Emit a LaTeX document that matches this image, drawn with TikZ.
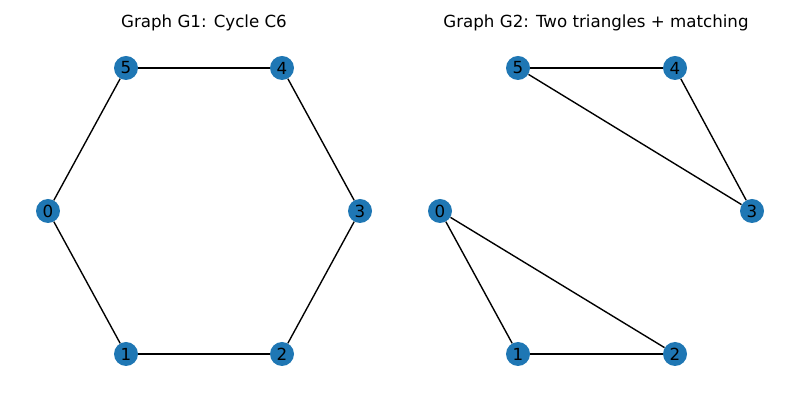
\documentclass[tikz,border=0pt]{standalone}
\usepackage{fontspec}
\setmainfont{DejaVu Sans}
\usepackage{tikz}
\definecolor{nodeblue}{HTML}{1F77B4}
\tikzset{
	vtx/.style={circle, fill=nodeblue, minimum size=24*0.72pt, inner sep=0pt, font=\fontsize{12}{14}\selectfont},
	edg/.style={line width=1pt, black},
	ttl/.style={font=\fontsize{12}{14}\selectfont}
}

\begin{document}
\begin{tikzpicture}[x=0.72pt, y=-0.72pt]
			%%%%% START %%%%%
			
			\useasboundingbox (0, 0) rectangle (800, 400);
			
			\node[ttl] (titleA) at (204, 23) {Graph G1: Cycle C6};
			\node[ttl] (titleB) at (596, 23) {Graph G2: Two triangles + matching};
			
			% G1
			\node[vtx] (a0) at (48, 211) {0};
			\node[vtx] (a1) at (126, 354) {1};
			\node[vtx] (a2) at (282, 354) {2};
			\node[vtx] (a3) at (360, 211) {3};
			\node[vtx] (a4) at (282, 68) {4};
			\node[vtx] (a5) at (126, 68) {5};
			
			\draw[edg] (a0) -- (a1);
			\draw[edg] (a1) -- (a2);
			\draw[edg] (a2) -- (a3);
			\draw[edg] (a3) -- (a4);
			\draw[edg] (a4) -- (a5);
			\draw[edg] (a5) -- (a0);
			
			% G2
			\node[vtx] (b0) at (440, 211) {0};
			\node[vtx] (b1) at (518, 354) {1};
			\node[vtx] (b2) at (675, 354) {2};
			\node[vtx] (b3) at (752, 211) {3};
			\node[vtx] (b4) at (675, 68) {4};
			\node[vtx] (b5) at (518, 68) {5};
			
			\draw[edg] (b0) -- (b1);
			\draw[edg] (b1) -- (b2);
			\draw[edg] (b0) -- (b2);
			\draw[edg] (b3) -- (b4);
			\draw[edg] (b4) -- (b5);
			\draw[edg] (b5) -- (b3);
			
			%%%%% END %%%%%
		\end{tikzpicture}
\end{document}
